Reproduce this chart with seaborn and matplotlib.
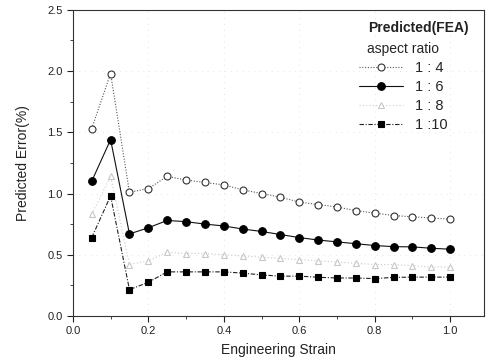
import numpy as np
import pandas as pd
import seaborn as sns
import matplotlib.pyplot as plt
from matplotlib.ticker import MultipleLocator

sns.set_style("ticks")
plt.rcParams['font.family'] = ['Liberation Sans', 'DejaVu Sans']

# engineering strain
strain = [0.05, 0.10, 0.15, 0.20, 0.25, 0.30, 0.35, 0.40, 0.45, 0.50,
          0.55, 0.60, 0.65, 0.70, 0.75, 0.80, 0.85, 0.90, 0.95, 1.00]

# predicted error (%) per aspect ratio
err_1_4 = [1.53, 1.98, 1.01, 1.04, 1.14, 1.11, 1.09, 1.07, 1.03, 1.00,
           0.97, 0.93, 0.91, 0.89, 0.86, 0.84, 0.82, 0.81, 0.80, 0.79]
err_1_6 = [1.10, 1.44, 0.67, 0.72, 0.78, 0.77, 0.75, 0.735, 0.71, 0.69,
           0.665, 0.64, 0.62, 0.605, 0.59, 0.575, 0.566, 0.564, 0.553, 0.545]
err_1_8 = [0.83, 1.14, 0.42, 0.45, 0.52, 0.51, 0.51, 0.50, 0.49, 0.48,
           0.47, 0.46, 0.45, 0.44, 0.43, 0.42, 0.42, 0.41, 0.40, 0.40]
err_1_10 = [0.64, 0.98, 0.215, 0.275, 0.36, 0.36, 0.36, 0.36, 0.35, 0.335,
            0.325, 0.325, 0.316, 0.31, 0.31, 0.305, 0.315, 0.317, 0.317, 0.317]

labels = ["1 : 4", "1 : 6", "1 : 8", "1 :10"]

df = pd.DataFrame({"strain": strain * 4,
                   "error": err_1_4 + err_1_6 + err_1_8 + err_1_10,
                   "ratio": [l for l in labels for _ in strain]})

fig = plt.figure(figsize=(4.89, 3.64), dpi=100)
ax = fig.add_axes([0.149, 0.132, 0.841, 0.841])

styles = {
    "1 : 4": dict(color="#555555", ls=(0, (1, 1.5)), marker="o", mfc="white", mec="#333333", ms=5),
    "1 : 6": dict(color="#111111", ls="-", marker="o", mfc="black", mec="black", ms=5.5),
    "1 : 8": dict(color="#c8c8c8", ls=(0, (1, 2)), marker="^", mfc="white", mec="#c8c8c8", ms=4),
    "1 :10": dict(color="#222222", ls=(0, (4, 1.5, 1, 1.5)), marker="s", mfc="black", mec="black", ms=4),
}

for lab in labels:
    st = styles[lab]
    sns.lineplot(data=df[df["ratio"] == lab], x="strain", y="error", ax=ax,
                 color=st["color"], linestyle=st["ls"], linewidth=0.8,
                 marker=st["marker"], markerfacecolor=st["mfc"],
                 markeredgecolor=st["mec"], markersize=st["ms"],
                 markeredgewidth=0.8, label=lab)

ax.set_xlim(0, 1.09)
ax.set_ylim(0, 2.5)
ax.xaxis.set_major_locator(MultipleLocator(0.2))
ax.xaxis.set_minor_locator(MultipleLocator(0.1))
ax.yaxis.set_major_locator(MultipleLocator(0.5))
ax.yaxis.set_minor_locator(MultipleLocator(0.25))
ax.tick_params(which="major", direction="out", length=4, width=0.8, labelsize=8, colors="#222222")
ax.tick_params(which="minor", direction="out", length=2.5, width=0.6)
ax.set_xlabel("Engineering Strain", fontsize=10, color="#222222", labelpad=5)
ax.set_ylabel("Predicted Error(%)", fontsize=10, color="#222222", labelpad=12)
for s in ax.spines.values():
    s.set_linewidth(0.8)
    s.set_color("#333333")
ax.grid(True, which="major", color="#dddddd", linestyle=(0, (1, 6)), linewidth=0.6)

leg = ax.legend(title="aspect ratio", frameon=False, loc="upper right",
                bbox_to_anchor=(0.925, 0.915), fontsize=10.5, title_fontsize=10,
                handlelength=3, labelspacing=0.35, borderaxespad=0)
ax.text(0.84, 0.94, "Predicted(FEA)", transform=ax.transAxes, ha="center",
        va="center", fontsize=10, fontweight="bold", color="#222222")

fig.savefig("out.png", dpi=100)
